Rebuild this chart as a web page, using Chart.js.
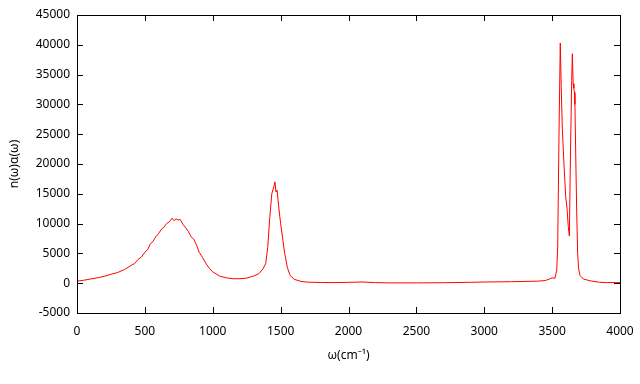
<!DOCTYPE html>
<html>
<head>
<meta charset="utf-8">
<script src="https://cdn.jsdelivr.net/npm/chart.js@4/dist/chart.umd.min.js"></script>
<style>
  html, body { margin: 0; padding: 0; background: #fff; }
  #wrap { width: 640px; height: 384px; }
</style>
</head>
<body>
<div id="wrap"><canvas id="spectrum"></canvas></div>
<script>
// wavenumber (cm^-1) and intensity
const omega = [
  0, 50, 100, 150, 200, 250, 300, 350, 400, 425, 450, 475, 500, 520, 540, 560, 580, 600,
  620, 640, 660, 680, 700, 715, 730, 745, 760, 780, 800, 820, 840, 860, 880, 900, 925,
  950, 975, 1000, 1050, 1100, 1150, 1200, 1250, 1300, 1340, 1370, 1390, 1405, 1420, 1435,
  1450, 1458, 1466, 1474, 1485, 1500, 1515, 1530, 1550, 1570, 1600, 1650, 1700, 1800,
  1900, 2000, 2100, 2200, 2300, 2500, 2700, 2900, 3000, 3200, 3300, 3400, 3450, 3480,
  3500, 3521, 3534, 3541, 3551, 3560, 3567, 3575, 3587, 3600, 3610, 3619, 3627, 3634,
  3644, 3649, 3655, 3660, 3664, 3668, 3675, 3681, 3688, 3695, 3705, 3730, 3780, 3850,
  3900, 4000
];
const intensity = [
  350, 500, 700, 900, 1150, 1500, 1800, 2300, 3000, 3300, 4000, 4400, 5200, 5600, 6600,
  7000, 7800, 8300, 9000, 9400, 10000, 10300, 10900, 10500, 10800, 10600, 10700, 9900,
  9300, 8700, 7800, 7400, 6400, 5200, 4300, 3300, 2500, 1900, 1200, 900, 750, 750, 850,
  1200, 1600, 2400, 3300, 6000, 11000, 15000, 16200, 17000, 15300, 15600, 13000, 10000,
  7500, 5000, 2600, 1300, 650, 300, 170, 120, 100, 150, 200, 100, 50, 50, 80, 150, 200,
  250, 300, 350, 450, 700, 900, 840, 2200, 6100, 25700, 40300, 33000, 26000, 20100,
  14500, 12500, 9500, 7900, 20000, 34000, 38500, 33500, 32700, 32000, 30000, 20000,
  12000, 5000, 2500, 1300, 700, 400, 150, 100, 100
];
const xTicks = [0, 500, 1000, 1500, 2000, 2500, 3000, 3500, 4000];
const yTicks = [-5000, 0, 5000, 10000, 15000, 20000, 25000, 30000, 35000, 40000, 45000];

const points = omega.map((w, i) => ({ x: w, y: intensity[i] }));

// gnuplot-like frame with inward ticks on all four sides
const framePlugin = {
  id: 'frame',
  afterDraw(chart) {
    const { ctx, chartArea: a, scales } = chart;
    const len = 6;
    ctx.save();
    ctx.strokeStyle = '#000';
    ctx.lineWidth = 1;
    ctx.beginPath();
    xTicks.forEach(v => {
      const px = Math.round(scales.x.getPixelForValue(v)) + 0.5;
      ctx.moveTo(px, a.bottom); ctx.lineTo(px, a.bottom - len);
      ctx.moveTo(px, a.top); ctx.lineTo(px, a.top + len);
    });
    yTicks.forEach(v => {
      const py = Math.round(scales.y.getPixelForValue(v)) + 0.5;
      ctx.moveTo(a.left, py); ctx.lineTo(a.left + len, py);
      ctx.moveTo(a.right, py); ctx.lineTo(a.right - len, py);
    });
    ctx.stroke();
    ctx.strokeRect(Math.round(a.left) + 0.5, Math.round(a.top) + 0.5,
      Math.round(a.right - a.left), Math.round(a.bottom - a.top));
    ctx.restore();
  }
};

const font = { family: 'Noto Sans', size: 12 };

new Chart(document.getElementById('spectrum'), {
  type: 'scatter',
  data: {
    datasets: [{
      data: points,
      showLine: true,
      borderColor: '#ff0000',
      borderWidth: 1,
      pointRadius: 0,
      tension: 0
    }]
  },
  options: {
    responsive: true,
    maintainAspectRatio: false,
    animation: false,
    layout: { padding: { left: 0, right: 20, top: 15, bottom: 0 } },
    plugins: { legend: { display: false }, tooltip: { enabled: false } },
    scales: {
      x: {
        type: 'linear',
        min: 0, max: 4000,
        afterBuildTicks: s => { s.ticks = xTicks.map(v => ({ value: v })); },
        afterFit: s => { s.height = 71; s.paddingRight = 0; s.paddingLeft = 0; },
        grid: { display: false, drawTicks: false },
        border: { display: false },
        ticks: { color: '#000', font, padding: 11, maxRotation: 0, callback: v => String(v) },
        title: { display: true, text: 'ω(cm⁻¹)', color: '#000', font, padding: { top: 0, bottom: 21 } }
      },
      y: {
        min: -5000, max: 45000,
        afterBuildTicks: s => { s.ticks = yTicks.map(v => ({ value: v })); },
        afterFit: s => { s.width = 77; },
        grid: { display: false, drawTicks: false },
        border: { display: false },
        ticks: { color: '#000', font, padding: 7, callback: v => String(v) },
        title: { display: true, text: 'n(ω)α(ω)', color: '#000', font, padding: { top: 7, bottom: 0 } }
      }
    }
  },
  plugins: [framePlugin]
});
</script>
</body>
</html>
